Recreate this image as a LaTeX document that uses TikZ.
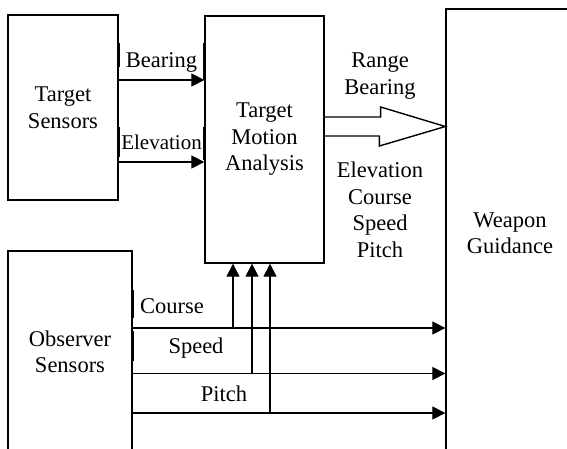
\documentclass[tikz,border=0pt]{standalone}
\usepackage{fontspec}
\setmainfont{Liberation Serif}
\usetikzlibrary{arrows.meta,calc}
\tikzset{
  box/.style={draw,line width=1.3pt,inner sep=0pt,align=center},
  flow/.style={line width=1.2pt,-{Triangle[length=13pt,width=13pt]}},
  seam/.style={line width=2.6pt},
  tag/.style={inner sep=0pt,align=center},
}

\begin{document}
\begin{tikzpicture}[x=1pt,y=-1pt,font=\fontsize{22.5}{26.5}\selectfont]

\useasboundingbox (0,0) rectangle (567,448);
\clip (0,0) rectangle (567,448);

% blocks
\node[box,minimum width=110pt,minimum height=185pt] (ts) at (63,107.5) {Target\\Sensors};
\node[box,minimum width=119pt,minimum height=247pt] (tma) at (264.5,139.5) {Target\\Motion\\Analysis};
\node[box,minimum width=128pt,minimum height=448pt] (wg) at (510,233) {Weapon\\Guidance};
\node[box,minimum width=124pt,minimum height=202pt] (os) at (70,352) {Observer\\Sensors};

% sensor lines
\coordinate (brg) at (0,80);
\coordinate (elv) at (0,162);
\draw[flow] (ts.east |- brg) -- (tma.west |- brg);
\draw[flow] (ts.east |- elv) -- (tma.west |- elv);
\node[tag] (lbrg) at (161.5,62) {Bearing};
\node[tag,font=\fontsize{21}{25}\selectfont] (lelv) at (161.5,142.5) {Elevation};

% solution to weapon
\coordinate (sol) at (0,126.5);
\draw[line width=1.4pt] (tma.east |- 0,117) -- ++(56,0) -- ++(0,-10)
  -- (wg.west |- sol) -- ++(-66,19.5) -- ++(0,-10) -- ++(-56,0);
\node[tag] (lrb) at (380,76) {Range\\Bearing};
\node[tag] (lecs) at (380,210) {Elevation\\Course\\Speed\\Pitch};

% observer lines
\coordinate (crs) at (0,328);
\coordinate (spd) at (0,373.5);
\coordinate (pch) at (0,413);
\coordinate (tc) at (233,0);
\coordinate (tsp) at (252,0);
\coordinate (tp) at (270,0);
\foreach \c in {crs,spd,pch}
  \draw[flow] (os.east |- \c) -- (wg.west |- \c);
\draw[flow] (crs -| tc) -- (tma.south -| tc);
\draw[flow] (spd -| tsp) -- (tma.south -| tsp);
\draw[flow] (pch -| tp) -- (tma.south -| tp);
\node[tag] (lcrs) at (172,306.5) {Course};
\node[tag] (lspd) at (196,348.5) {Speed};
\node[tag] (lpch) at (224,393.5) {Pitch};

% text box edges
\draw[seam] (ts.east |- 0,43) -- (ts.east |- 0,67);
\draw[seam] (ts.east |- 0,127) -- (ts.east |- 0,157);
\draw[seam] (tma.west |- 0,43) -- (tma.west |- 0,80);
\draw[seam] (tma.west |- 0,127) -- (tma.west |- 0,160);
\draw[seam] (os.east |- 0,290) -- (os.east |- 0,318);
\draw[seam] (os.east |- 0,331) -- (os.east |- 0,361);
\draw[seam] (tc |- 0,290) -- (crs -| tc);
\draw[seam] (tsp |- 0,331) -- (spd -| tsp);
\draw[seam] (tp |- 0,376) -- (pch -| tp);

\end{tikzpicture}
\end{document}
